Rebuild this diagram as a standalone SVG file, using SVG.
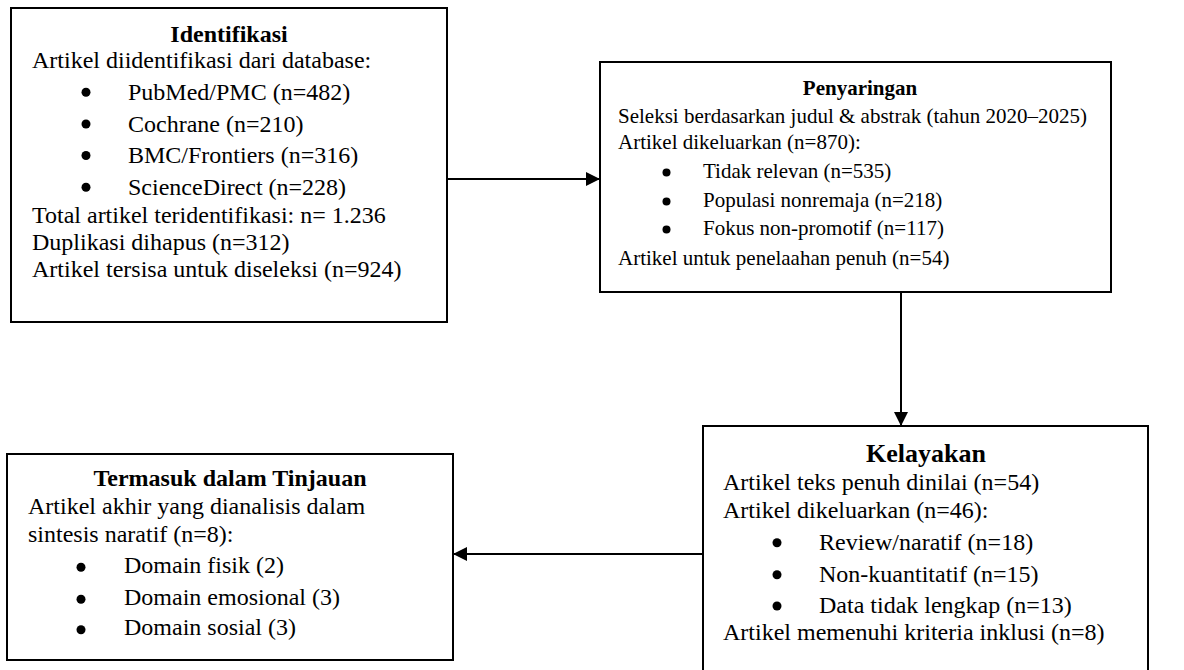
<svg xmlns="http://www.w3.org/2000/svg" width="1184" height="670" viewBox="0 0 1184 670">
<style>
.box{fill:#fff;stroke:#000;stroke-width:2}
text{font-family:"Liberation Serif","Times New Roman",serif;fill:#000}
.t24{font-size:24px}
.t21{font-size:21px}
.h24{font-size:24px;font-weight:bold;text-anchor:middle}
.h21{font-size:21px;font-weight:bold;text-anchor:middle}
.h26{font-size:26px;font-weight:bold;text-anchor:middle}
.b{fill:#000}
.con{stroke:#000;stroke-width:2;fill:none}
</style>
<defs>
<marker id="ah" viewBox="0 0 14 14" refX="14" refY="7" markerWidth="14" markerHeight="14" markerUnits="userSpaceOnUse" orient="auto">
<path d="M0,0 L14,7 L0,14 Z" fill="#000"/>
</marker>
</defs>
<rect width="1184" height="670" fill="#fff"/>
<g id="connectors">
<line class="con" x1="447" y1="179" x2="600" y2="179" marker-end="url(#ah)"/>
<line class="con" x1="901" y1="292" x2="901" y2="426" marker-end="url(#ah)"/>
<line class="con" x1="703" y1="554" x2="453" y2="554" marker-end="url(#ah)"/>
</g>
<g id="identifikasi">
<rect class="box" x="11" y="8" width="436" height="314"/>
<text class="h24" x="229" y="42">Identifikasi</text>
<text class="t24" x="32" y="68">Artikel diidentifikasi dari database:</text>
<circle class="b" cx="86" cy="92.3" r="4.5"/><text class="t24" x="128" y="100">PubMed/PMC (n=482)</text>
<circle class="b" cx="86" cy="124" r="4.5"/><text class="t24" x="128" y="132">Cochrane (n=210)</text>
<circle class="b" cx="86" cy="155.5" r="4.5"/><text class="t24" x="128" y="163">BMC/Frontiers (n=316)</text>
<circle class="b" cx="86" cy="187.3" r="4.5"/><text class="t24" x="128" y="195">ScienceDirect (n=228)</text>
<text class="t24" x="32" y="223">Total artikel teridentifikasi: n= 1.236</text>
<text class="t24" x="32" y="250">Duplikasi dihapus (n=312)</text>
<text class="t24" x="32" y="277">Artikel tersisa untuk diseleksi (n=924)</text>
</g>
<g id="penyaringan">
<rect class="box" x="600" y="62" width="511" height="230"/>
<text class="h21" x="860" y="95">Penyaringan</text>
<text class="t21" x="618" y="123">Seleksi berdasarkan judul &amp; abstrak (tahun 2020–2025)</text>
<text class="t21" x="618" y="149">Artikel dikeluarkan (n=870):</text>
<circle class="b" cx="666.5" cy="172.5" r="4"/><text class="t21" x="703" y="178">Tidak relevan (n=535)</text>
<circle class="b" cx="666.5" cy="201.5" r="4"/><text class="t21" x="703" y="207">Populasi nonremaja (n=218)</text>
<circle class="b" cx="666.5" cy="229.5" r="4"/><text class="t21" x="703" y="235">Fokus non-promotif (n=117)</text>
<text class="t21" x="618" y="265">Artikel untuk penelaahan penuh (n=54)</text>
</g>
<g id="kelayakan">
<rect class="box" x="703" y="426" width="445" height="260"/>
<text class="h26" x="926" y="462">Kelayakan</text>
<text class="t24" x="723" y="490">Artikel teks penuh dinilai (n=54)</text>
<text class="t24" x="723" y="518">Artikel dikeluarkan (n=46):</text>
<circle class="b" cx="777" cy="542.7" r="4.5"/><text class="t24" x="819" y="550">Review/naratif (n=18)</text>
<circle class="b" cx="777" cy="574.7" r="4.5"/><text class="t24" x="819" y="582">Non-kuantitatif (n=15)</text>
<circle class="b" cx="777" cy="606" r="4.5"/><text class="t24" x="819" y="613">Data tidak lengkap (n=13)</text>
<text class="t24" x="723" y="640">Artikel memenuhi kriteria inklusi (n=8)</text>
</g>
<g id="termasuk">
<rect class="box" x="7" y="454" width="446" height="206"/>
<text class="h24" x="230" y="486">Termasuk dalam Tinjauan</text>
<text class="t24" x="28" y="514">Artikel akhir yang dianalisis dalam</text>
<text class="t24" x="28" y="542">sintesis naratif (n=8):</text>
<circle class="b" cx="81" cy="567.3" r="4.5"/><text class="t24" x="124" y="573">Domain fisik (2)</text>
<circle class="b" cx="81" cy="599.3" r="4.5"/><text class="t24" x="124" y="605">Domain emosional (3)</text>
<circle class="b" cx="81" cy="629.7" r="4.5"/><text class="t24" x="124" y="635">Domain sosial (3)</text>
</g>
</svg>
